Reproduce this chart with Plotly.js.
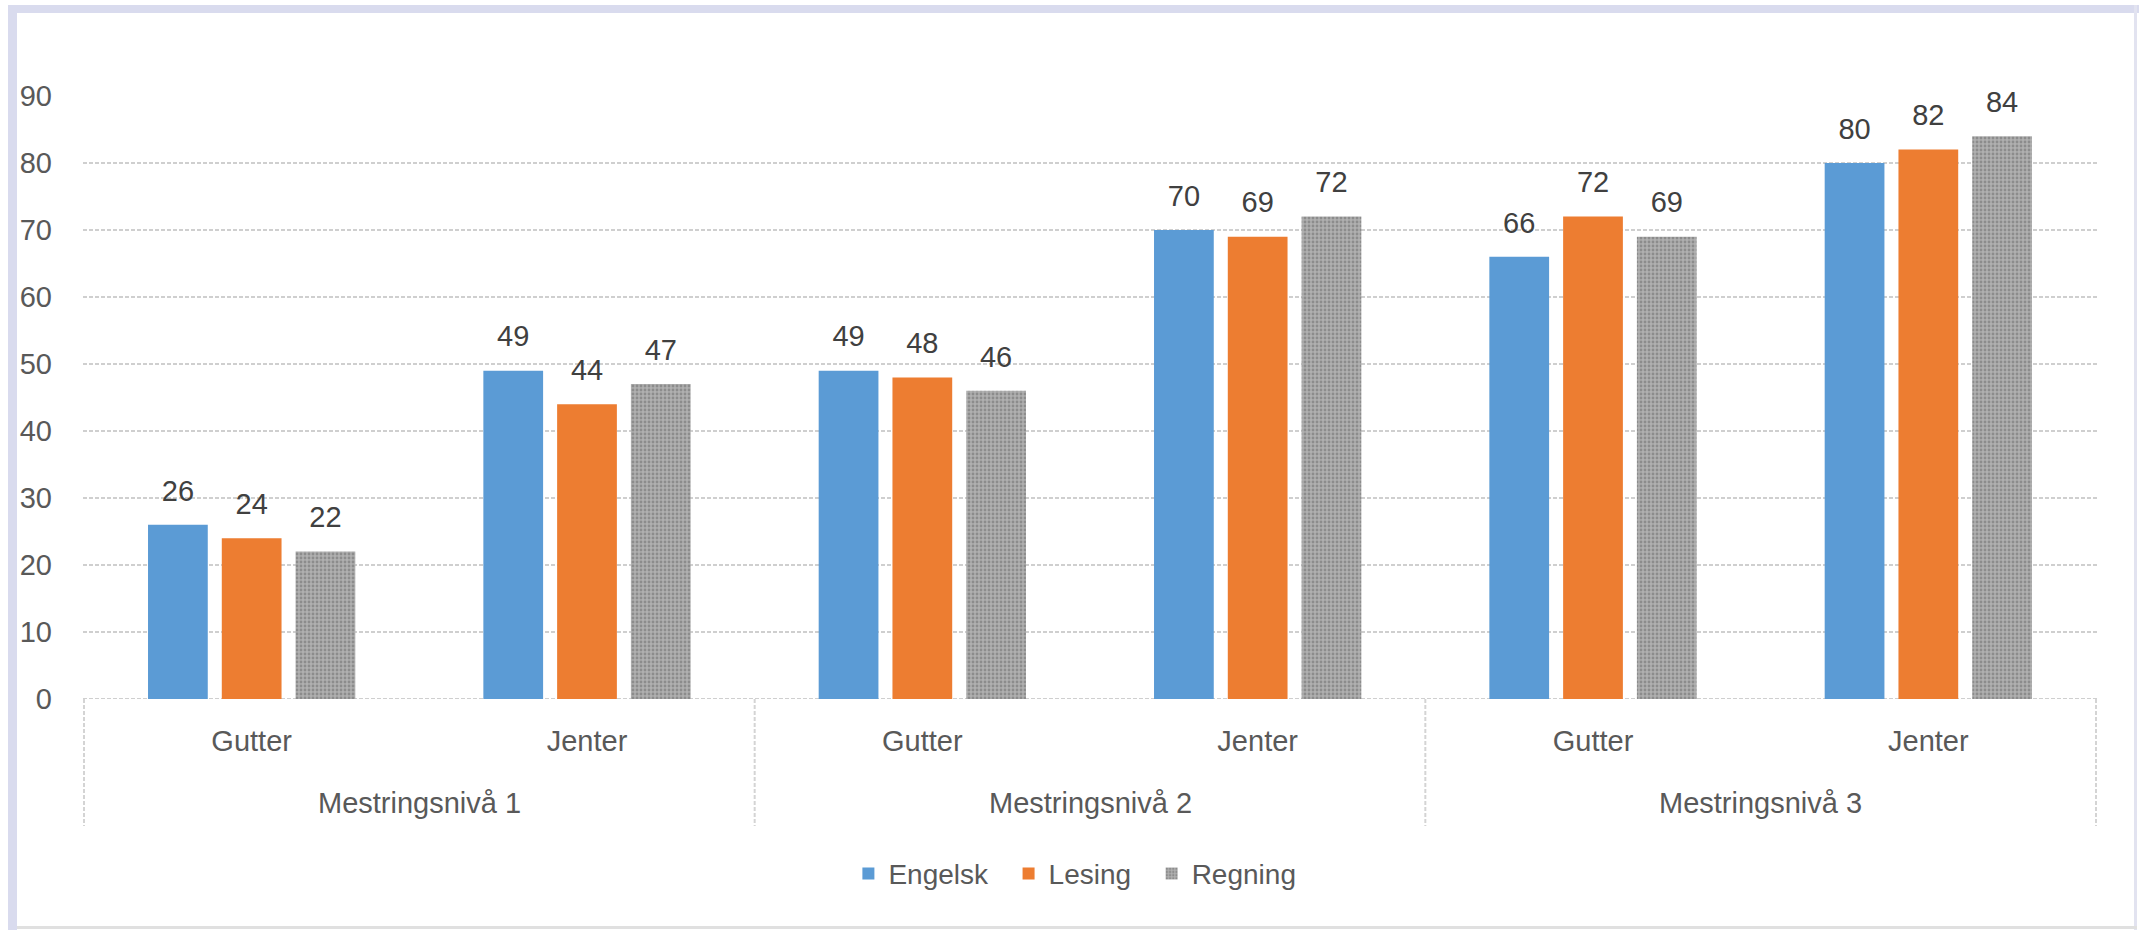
<!DOCTYPE html>
<html>
<head>
<meta charset="utf-8">
<script src="https://cdn.plot.ly/plotly-3.0.1.min.js"></script>
<style>
  html, body { margin: 0; padding: 0; background: #ffffff; }
  #wrap { position: relative; width: 2139px; height: 930px; overflow: hidden; }
  #chart { position: absolute; left: 0; top: 0; width: 2139px; height: 930px; }
  .bd { position: absolute; pointer-events: none; background: #d9dbee; }
</style>
</head>
<body>
<div id="wrap">
  <div id="chart"></div>
  <div class="bd" style="left:8px; top:5px; width:2131px; height:8px;"></div>
  <div class="bd" style="left:8px; top:5px; width:9px; height:925px;"></div>
  <div class="bd" style="left:2134px; top:5px; width:3px; height:925px; background:#e2e3f0;"></div>
  <div class="bd" style="left:17px; top:926px; width:2120px; height:3px; background:#e0e0e0;"></div>
</div>
<script>
// ---- data ----
const levels = ['Mestringsnivå 1', 'Mestringsnivå 1', 'Mestringsnivå 2', 'Mestringsnivå 2', 'Mestringsnivå 3', 'Mestringsnivå 3'];
const groups = ['Gutter', 'Jenter', 'Gutter', 'Jenter', 'Gutter', 'Jenter'];
const engelsk = [26, 49, 49, 70, 66, 80];
const lesing  = [24, 44, 48, 69, 72, 82];
const regning = [22, 47, 46, 72, 69, 84];
const seriesNames = ['Engelsk', 'Lesing', 'Regning'];
const yTicks = [0, 10, 20, 30, 40, 50, 60, 70, 80, 90];

const FONT = '"Liberation Sans", Arial, sans-serif';
const colors = ['#5b9bd5', '#ed7d31', '#a5a5a5'];
const values = [engelsk, lesing, regning];
const legendPad = '\u00a0\u00a0';

// category keys (unique), labelled by the gender row
const keys = levels.map((l, i) => l + ' | ' + groups[i]);

const traces = seriesNames.map((name, i) => {
  const t = {
    type: 'bar',
    name: name + (i < seriesNames.length - 1 ? legendPad : ''),
    x: keys,
    y: values[i],
    text: values[i].map(String),
    texttemplate: '<span style="font-size:29px">%{text}</span><br>&nbsp;',
    textposition: 'outside',
    cliponaxis: false,
    constraintext: 'none',
    textfont: { family: FONT, size: 14, color: '#404040' },
    marker: { color: colors[i], line: { width: 0 } },
    hoverinfo: 'none'
  };
  if (i === 2) {
    t.marker.pattern = { shape: '.', size: 4, solidity: 0.4, fgcolor: '#8c8c8c', bgcolor: '#b0b0b0', fillmode: 'replace' };
  }
  return t;
});

// level spans (dividers at boundaries, labels at centres)
const spans = [];
levels.forEach((l, i) => {
  if (i === 0 || levels[i - 1] !== l) spans.push({ name: l, start: i, end: i });
  else spans[spans.length - 1].end = i;
});
const boundaries = [spans[0].start - 0.5].concat(spans.map(s => s.end + 0.5));

const dividerBottom = -0.2106;   // fraction of plot height below the axis
const shapes = boundaries.map(b => ({
  type: 'line', xref: 'x', yref: 'paper', x0: b, x1: b, y0: 0, y1: dividerBottom,
  line: { color: '#d4d4d4', width: 2, dash: '4px,2px' }
}));
shapes.push({ type: 'line', xref: 'paper', yref: 'y', x0: 0, x1: 1, y0: 0, y1: 0,
  line: { color: '#cfcfcf', width: 2, dash: '4px,2px' }, layer: 'below' });

const annotations = spans.map(s => ({
  xref: 'x', yref: 'paper', x: (s.start + s.end) / 2, y: -0.1725,
  yanchor: 'middle', xanchor: 'center', showarrow: false,
  text: s.name, font: { family: FONT, size: 29, color: '#595959' }
}));

const layout = {
  width: 2139,
  height: 930,
  paper_bgcolor: 'rgba(0,0,0,0)',
  plot_bgcolor: 'rgba(0,0,0,0)',
  margin: { l: 83, r: 42, t: 96, b: 231 },
  barmode: 'group',
  bargap: 0.34,
  bargroupgap: 0.19,
  showlegend: true,
  font: { family: FONT, size: 29, color: '#595959' },
  xaxis: {
    type: 'category',
    categoryorder: 'array',
    categoryarray: keys,
    tickmode: 'array',
    tickvals: keys,
    ticktext: groups,
    showgrid: false,
    showline: false,
    zeroline: false,
    ticks: '',
    ticklabelstandoff: 22,
    tickfont: { family: FONT, size: 29, color: '#595959' }
  },
  yaxis: {
    range: [0, 90],
    tickvals: yTicks,
    ticktext: yTicks.map(String),
    showgrid: true,
    gridcolor: '#cfcfcf',
    gridwidth: 2,
    griddash: '4px,2px',
    zeroline: false,
    showline: false,
    ticks: '',
    ticklabelstandoff: 30,
    tickfont: { family: FONT, size: 29, color: '#595959' }
  },
  legend: {
    orientation: 'h',
    x: 0.4925,
    xanchor: 'center',
    y: -0.29,
    yanchor: 'middle',
    font: { family: FONT, size: 28, color: '#595959' },
    traceorder: 'normal',
    bgcolor: 'rgba(0,0,0,0)'
  },
  shapes: shapes,
  annotations: annotations
};

Plotly.newPlot('chart', traces, layout, { displayModeBar: false, staticPlot: true });
</script>
</body>
</html>
